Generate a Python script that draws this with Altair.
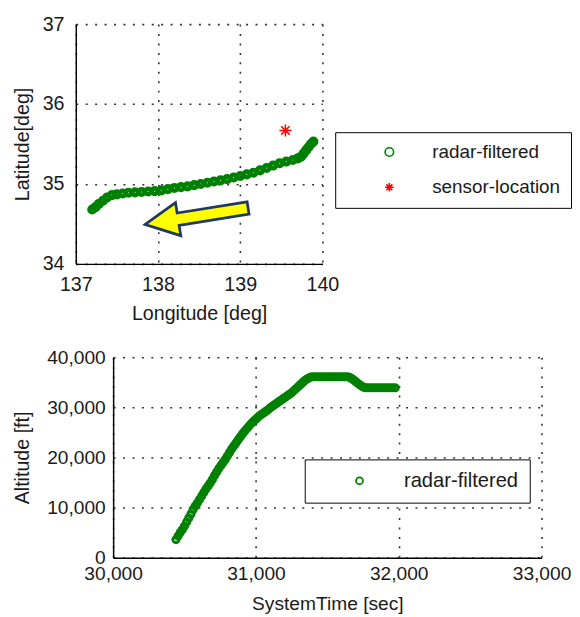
import altair as alt
import pandas as pd

# ---------------- data ----------------
track_lon = [137.20, 137.24, 137.28, 137.33, 137.38, 137.44, 137.50, 137.57, 137.64, 137.72,
             137.80, 137.88, 137.96, 138.04, 138.12, 138.20, 138.28, 138.36, 138.44, 138.52,
             138.60, 138.68, 138.76, 138.84, 138.92, 139.00, 139.08, 139.16, 139.24, 139.32,
             139.40, 139.48, 139.56, 139.64, 139.70, 139.74, 139.77, 139.80, 139.83, 139.86,
             139.89]
track_lat = [34.68, 34.71, 34.75, 34.79, 34.83, 34.86, 34.87, 34.88, 34.89, 34.895,
             34.90, 34.905, 34.91, 34.92, 34.935, 34.95, 34.96, 34.97, 34.985, 35.00,
             35.015, 35.03, 35.045, 35.06, 35.08, 35.10, 35.12, 35.14, 35.17, 35.20,
             35.23, 35.26, 35.28, 35.30, 35.32, 35.34, 35.38, 35.42, 35.46, 35.50,
             35.53]

sensor_lon = [139.55]
sensor_lat = [35.67]

arrow_lon = [138.47]
arrow_lat = [34.596]

sys_time = [30440, 30455, 30470, 30485, 30500, 30515, 30530, 30545, 30560, 30575,
            30590, 30605, 30620, 30635, 30650, 30665, 30680, 30695, 30710, 30725,
            30740, 30755, 30770, 30785, 30800, 30815, 30830, 30845, 30860, 30875,
            30890, 30905, 30920, 30935, 30950, 30965, 30980, 30995, 31010, 31025,
            31040, 31055, 31070, 31085, 31100, 31115, 31130, 31145, 31160, 31175,
            31190, 31205, 31220, 31235, 31250, 31265, 31280, 31295, 31310, 31325,
            31340, 31355, 31370, 31385, 31400,
            31420, 31440, 31460, 31480, 31500, 31520, 31540, 31560, 31580, 31600,
            31620, 31640,
            31655, 31670, 31685, 31700, 31715, 31730, 31745, 31760, 31775,
            31795, 31815, 31835, 31855, 31875, 31895, 31915, 31935, 31955, 31975]
altitude = [3600, 4300, 5000, 5600, 6300, 7100, 7900, 8700, 9600, 10300,
            10900, 11600, 12300, 13000, 13700, 14300, 14900, 15600, 16400, 17100,
            17800, 18400, 19000, 19600, 20300, 21000, 21700, 22300, 22900, 23500,
            24100, 24700, 25200, 25700, 26200, 26700, 27100, 27500, 27900, 28300,
            28600, 28900, 29200, 29500, 29900, 30200, 30500, 30800, 31100, 31400,
            31700, 32000, 32300, 32600, 32900, 33300, 33700, 34100, 34500, 34900,
            35300, 35600, 35850, 36050, 36100,
            36100, 36100, 36100, 36100, 36100, 36100, 36100, 36100, 36100, 36100,
            36100, 36100,
            36000, 35750, 35450, 35100, 34750, 34450, 34150, 33950, 33900,
            33900, 33900, 33900, 33900, 33900, 33900, 33900, 33900, 33900, 33900]

series_names = ["radar-filtered", "sensor-location"]
series_colors = ["#008000", "#ff0000"]

lon_ticks = [137, 138, 139, 140]
lat_ticks = [34, 35, 36, 37]
time_ticks = [30000, 31000, 32000, 33000]
alt_ticks = [0, 10000, 20000, 30000, 40000]

# ---------------- styling ----------------
FONT = "Liberation Sans"
TXT = "#1a1a1a"
ASTERISK = "M -1 0 L 1 0 M 0 -1 L 0 1 M -0.7 -0.7 L 0.7 0.7 M -0.7 0.7 L 0.7 -0.7"
ARROW = "M -1 0 L -0.36 -0.32 L -0.36 -0.12 L 1 -0.12 L 1 0.12 L -0.36 0.12 L -0.36 0.32 Z"

TOP_W, TOP_H = 251, 244
BOT_SHIFT, BOT_W, BOT_H = 38, 436, 204


def axis(values, fmt, title, lsize, tsize, lpad, tpad, **kw):
    return alt.Axis(values=values, format=fmt, title=title,
                    labelFont=FONT, labelFontSize=lsize, labelColor=TXT,
                    titleFont=FONT, titleFontSize=tsize, titleColor=TXT,
                    titleFontWeight="normal",
                    labelPadding=lpad, titlePadding=tpad,
                    labelFlush=False, labelOverlap=False,
                    ticks=False, domainColor="#000000", domainWidth=1.5,
                    grid=True, gridColor="#333333", gridDash=[2, 7.6],
                    gridWidth=1.6, gridOpacity=1, **kw)


df_track = pd.DataFrame({"lon": track_lon, "lat": track_lat,
                         "series": series_names[0]})
df_sensor = pd.DataFrame({"lon": sensor_lon, "lat": sensor_lat,
                          "series": series_names[1]})
df_arrow = pd.DataFrame({"lon": arrow_lon, "lat": arrow_lat})
df_alt = pd.DataFrame({"t": sys_time, "a": altitude, "series": series_names[0]})

xs_top = alt.X("lon:Q", scale=alt.Scale(domain=[137, 140], nice=False, zero=False),
               axis=axis(lon_ticks, "d", "Longitude [deg]", 20, 20, 11, 10))
ys_top = alt.Y("lat:Q", scale=alt.Scale(domain=[34, 37], nice=False, zero=False),
               axis=axis(lat_ticks, "d", "Latitude[deg]", 20, 20, 12, 11,
                         titleX=-44, titleY=TOP_H / 2, titleAngle=270,
                         titleAlign="center", titleBaseline="bottom"))

legend_top = alt.Legend(title=None, orient="none", legendX=264, legendY=110,
                        strokeColor="#000000", fillColor="#ffffff", padding=10.5,
                        symbolOffset=35, labelOffset=34, rowPadding=16,
                        labelFont=FONT, labelFontSize=19.2, labelColor=TXT,
                        symbolSize=75, symbolStrokeWidth=1.6)
color_top = alt.Color("series:N", scale=alt.Scale(domain=series_names, range=series_colors),
                      legend=legend_top)
shape_top = alt.Shape("series:N", scale=alt.Scale(domain=series_names, range=["circle", ASTERISK]),
                      legend=legend_top)

track = alt.Chart(df_track).mark_point(filled=False, size=32, strokeWidth=4.6, opacity=1).encode(
    x=xs_top, y=ys_top, color=color_top, shape=shape_top)
sensor = alt.Chart(df_sensor).mark_point(filled=False, size=150, strokeWidth=1.5, opacity=1).encode(
    x=xs_top, y=ys_top, color=color_top, shape=shape_top)
arrow = alt.Chart(df_arrow).mark_point(shape=ARROW, filled=True, fill="#ffff00", stroke="#1f3864",
                                       strokeWidth=2.8, size=11236, angle=350.9, opacity=1).encode(
    x=xs_top, y=ys_top)

top = alt.layer(track, sensor, arrow).properties(width=TOP_W, height=TOP_H)

legend_bot = alt.Legend(title=None, orient="none", legendX=233, legendY=104,
                        strokeColor="#000000", fillColor="#ffffff", padding=11.5,
                        symbolOffset=34, labelOffset=35,
                        labelFont=FONT, labelFontSize=20.5, labelColor=TXT,
                        symbolSize=50, symbolStrokeWidth=1.8, symbolType="circle")

bottom = alt.Chart(df_alt).mark_point(filled=False, size=40, strokeWidth=3, opacity=1).encode(
    x=alt.X("t:Q", scale=alt.Scale(domain=[30000, 33000], nice=False, zero=False,
                                   range=[BOT_SHIFT, BOT_SHIFT + BOT_W]),
            axis=axis(time_ticks, ",d", "SystemTime [sec]", 19.5, 19.5, 7, 12)),
    y=alt.Y("a:Q", scale=alt.Scale(domain=[0, 40000], nice=False),
            axis=axis(alt_ticks, ",d", "Altitude [ft]", 19.5, 20, 8, 12,
                      offset=-BOT_SHIFT,
                      titleX=-82, titleY=BOT_H / 2, titleAngle=270,
                      titleAlign="center", titleBaseline="bottom")),
    color=alt.Color("series:N", scale=alt.Scale(domain=[series_names[0]], range=[series_colors[0]]),
                    legend=legend_bot),
).properties(width=BOT_SHIFT + BOT_W, height=BOT_H)

chart = alt.concat(top, bottom, columns=1, spacing=24).properties(
    padding={"left": 5, "top": 1, "right": 0, "bottom": 0}
).configure_view(strokeWidth=0).resolve_scale(color="independent", shape="independent")

chart.save("out.html", embed_options={"renderer": "svg", "actions": False})
